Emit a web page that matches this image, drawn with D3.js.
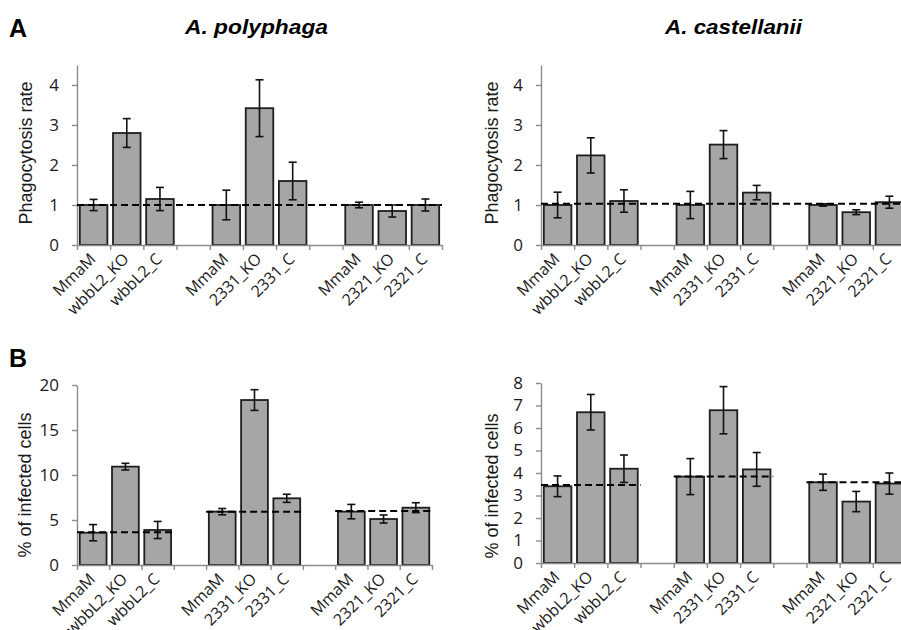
<!DOCTYPE html>
<html>
<head>
<meta charset="utf-8">
<script src="https://cdn.jsdelivr.net/npm/d3@7"></script>
<style>
	body { margin: 0; background: #fff; }
	svg { display: block; font-family: "Liberation Sans", Arial, sans-serif; }
	.axis path, .axis line { stroke: #8c8c8c; stroke-width: 1.4; }
	.axis text { font-size: 17px; fill: #1a1a1a; font-family: "Open Sans", sans-serif; }
	.xlab { font-size: 16px; fill: #1a1a1a; font-family: "Open Sans", sans-serif; }
</style>
</head>
<body>
<svg id="chart" width="901" height="630"></svg>
<script>
(function(){

	// strains per group, the two gaps sit between groups
	var groupNames = ["wbbL2", "2331", "2321"];
	var strainLabels = [
		["MmaM", "wbbL2_KO", "wbbL2_C"],
		["MmaM", "2331_KO", "2331_C"],
		["MmaM", "2321_KO", "2321_C"]
	];

	// A. polyphaga
	var phagoPoly = [1.0, 2.8, 1.15, 1.0, 3.42, 1.6, 1.0, 0.85, 1.0];
	var phagoPolyErr = [0.14, 0.36, 0.29, 0.37, 0.71, 0.47, 0.07, 0.15, 0.15];
	var phagoPolyRef = [1.0];
	var infPoly = [3.59, 10.93, 3.89, 5.93, 18.33, 7.41, 5.93, 5.11, 6.37];
	var infPolyErr = [0.9, 0.37, 0.95, 0.35, 1.15, 0.45, 0.8, 0.45, 0.55];
	var infPolyRef = [3.63, 5.93, 6.0];

	// A. castellanii
	var phagoCast = [1.0, 2.24, 1.1, 1.0, 2.51, 1.31, 1.0, 0.82, 1.07];
	var phagoCastErr = [0.32, 0.44, 0.28, 0.34, 0.35, 0.18, 0.03, 0.06, 0.15];
	var phagoCastRef = [1.03];
	var infCast = [3.41, 6.70, 4.19, 3.84, 6.79, 4.16, 3.59, 2.73, 3.53];
	var infCastErr = [0.46, 0.79, 0.61, 0.8, 1.05, 0.75, 0.36, 0.45, 0.47];
	var infCastRef = [3.47, 3.85, 3.59];

	var phagoTicks = [0, 1, 2, 3, 4];
	var infPolyTicks = [0, 5, 10, 15, 20];
	var infCastTicks = [0, 1, 2, 3, 4, 5, 6, 7, 8];

	var svg = d3.select("#chart");

	// band keys: 9 bars + 2 empty slots
	var keys = [];
	var barKeys = [];
	var barLabels = [];
	for(var g = 0; g < groupNames.length; g++){
		for(var s = 0; s < strainLabels[g].length; s++){
			var k = groupNames[g] + "_" + s;
			keys.push(k);
			barKeys.push(k);
			barLabels.push(strainLabels[g][s]);
		}
		if(g < groupNames.length - 1){
			keys.push("gap" + g);
		}
	}

	function draw_panel(p){
		var panel = svg.append("g");

		var x = d3.scaleBand()
			.domain(keys)
			.range([p.x0, p.x1])
			.paddingInner(0.17)
			.paddingOuter(0.085);

		var xb = d3.scaleLinear()
			.domain([0, keys.length])
			.range([p.x0, p.x1]);

		var y = d3.scaleLinear()
			.domain([0, p.max])
			.range([p.yBottom, p.yTop]);

		var rows = barKeys.map(function(k, i){
			return {key: k, label: barLabels[i], v: p.values[i], e: p.errs[i]};
		});

		panel.append("g")
			.selectAll("rect")
			.data(rows)
			.enter().append("rect")
				.attr("x", function(d){ return x(d.key); })
				.attr("y", function(d){ return y(d.v); })
				.attr("width", x.bandwidth())
				.attr("height", function(d){ return y(0) - y(d.v); })
				.attr("fill", "#a6a6a6")
				.attr("stroke", "#1e1e1e")
				.attr("stroke-width", 1.8);

		// axes
		panel.append("g")
			.attr("class", "axis")
			.attr("transform", "translate(0," + p.yBottom + ")")
			.call(d3.axisBottom(xb).tickValues(d3.range(keys.length + 1)).tickSize(5).tickSizeOuter(0).tickFormat(""));

		panel.append("g")
			.attr("class", "axis")
			.attr("transform", "translate(" + p.x0 + ",0)")
			.call(d3.axisLeft(y).tickValues(p.ticks).tickSize(5).tickSizeOuter(0).tickPadding(13).tickFormat(d3.format("d")));

		// error bars
		var err = panel.append("g")
			.attr("stroke", "#111")
			.attr("stroke-width", 1.6)
			.selectAll("g")
			.data(rows)
			.enter().append("g")
				.attr("transform", function(d){ return "translate(" + (x(d.key) + x.bandwidth() / 2) + ",0)"; });

		err.append("line")
			.attr("y1", function(d){ return y(d.v + d.e); })
			.attr("y2", function(d){ return y(d.v - d.e); });
		err.append("line")
			.attr("x1", -4).attr("x2", 4)
			.attr("y1", function(d){ return y(d.v + d.e); })
			.attr("y2", function(d){ return y(d.v + d.e); });
		err.append("line")
			.attr("x1", -4).attr("x2", 4)
			.attr("y1", function(d){ return y(d.v - d.e); })
			.attr("y2", function(d){ return y(d.v - d.e); });

		// dashed reference lines, one across the axis or one per group
		var refs = p.refs.map(function(r, i){
			if(p.refs.length === 1){
				return {v: r, a: 0, b: keys.length};
			}
			return {v: r, a: i * 4, b: i * 4 + 3};
		});
		panel.append("g")
			.selectAll("line")
			.data(refs)
			.enter().append("line")
				.attr("x1", function(d){ return xb(d.a); })
				.attr("x2", function(d){ return xb(d.b); })
				.attr("y1", function(d){ return y(d.v); })
				.attr("y2", function(d){ return y(d.v); })
				.attr("stroke", "#000")
				.attr("stroke-width", 2)
				.attr("stroke-dasharray", "7,4");

		// category labels
		panel.append("g")
			.selectAll("text")
			.data(rows)
			.enter().append("text")
				.attr("class", "xlab")
				.attr("transform", function(d){
					return "translate(" + (x(d.key) + x.bandwidth() / 2 + 3) + "," + (p.yBottom + 15) + ") rotate(-45)";
				})
				.attr("text-anchor", "end")
				.text(function(d){ return d.label; });

		panel.append("text")
			.attr("transform", "translate(" + p.labelX + "," + p.labelY + ") rotate(-90)")
			.attr("text-anchor", "middle")
			.style("font-size", "18px")
			.attr("fill", "#1a1a1a")
			.text(p.yLabel);
	}

	draw_panel({x0: 77, x1: 442, yTop: 65, yBottom: 245, max: 4.5, ticks: phagoTicks,
		values: phagoPoly, errs: phagoPolyErr, refs: phagoPolyRef,
		yLabel: "Phagocytosis rate", labelX: 32, labelY: 153});
	draw_panel({x0: 541, x1: 906, yTop: 65, yBottom: 245, max: 4.5, ticks: phagoTicks,
		values: phagoCast, errs: phagoCastErr, refs: phagoCastRef,
		yLabel: "Phagocytosis rate", labelX: 498, labelY: 153});
	draw_panel({x0: 77, x1: 432, yTop: 385, yBottom: 565, max: 20, ticks: infPolyTicks,
		values: infPoly, errs: infPolyErr, refs: infPolyRef,
		yLabel: "% of infected cells", labelX: 31, labelY: 485});
	draw_panel({x0: 541, x1: 906, yTop: 383, yBottom: 563, max: 8, ticks: infCastTicks,
		values: infCast, errs: infCastErr, refs: infCastRef,
		yLabel: "% of infected cells", labelX: 498, labelY: 486});

	// panel letters and species titles
	svg.append("text").attr("x", 9).attr("y", 37)
		.style("font-size", "25px").style("font-weight", "bold").text("A");
	svg.append("text").attr("x", 9).attr("y", 367)
		.style("font-size", "25px").style("font-weight", "bold").text("B");

	svg.append("text").attr("x", 185).attr("y", 34)
		.style("font-size", "20px").style("font-weight", "bold").style("font-style", "italic")
		.attr("textLength", 143).attr("lengthAdjust", "spacingAndGlyphs")
		.text("A. polyphaga");
	svg.append("text").attr("x", 665).attr("y", 34)
		.style("font-size", "20px").style("font-weight", "bold").style("font-style", "italic")
		.attr("textLength", 137).attr("lengthAdjust", "spacingAndGlyphs")
		.text("A. castellanii");

})();
</script>
</body>
</html>
